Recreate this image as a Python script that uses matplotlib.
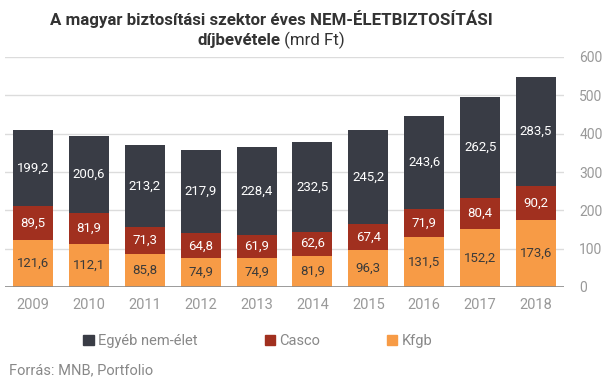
import matplotlib
matplotlib.use("Agg")
import matplotlib.pyplot as plt
from matplotlib.patches import Patch
import numpy as np

plt.rcParams['font.family'] = ['Roboto', 'DejaVu Sans']

years = ['2009', '2010', '2011', '2012', '2013', '2014', '2015', '2016', '2017', '2018']
kfgb = [121.6, 112.1, 85.8, 74.9, 74.9, 81.9, 96.3, 131.5, 152.2, 173.6]
casco = [89.5, 81.9, 71.3, 64.8, 61.9, 62.6, 67.4, 71.9, 80.4, 90.2]
egyeb = [199.2, 200.6, 213.2, 217.9, 228.4, 232.5, 245.2, 243.6, 262.5, 283.5]
yticks = [0, 100, 200, 300, 400, 500, 600]

c_dark = '#393c45'
c_red = '#a1301f'
c_orange = '#f79b46'

W, H = 606, 379
fig = plt.figure(figsize=(W / 100, H / 100), dpi=100)
ax = fig.add_axes([5 / W, 92 / H, 559 / W, 230 / H])

x = np.arange(len(years))
bw = 0.715
kf = np.array(kfgb)
ca = np.array(casco)
eg = np.array(egyeb)
ax.bar(x, kf, bw, color=c_orange, zorder=3)
ax.bar(x, ca, bw, bottom=kf, color=c_red, zorder=3)
ax.bar(x, eg, bw, bottom=kf + ca, color=c_dark, zorder=3)

def fmt(v):
    return f"{v:.1f}".replace('.', ',')

for i in range(len(years)):
    ax.text(x[i], kf[i] / 2, fmt(kf[i]), ha='center', va='center', fontsize=9.5, color='#3a3a3a', zorder=4)
    ax.text(x[i], kf[i] + ca[i] / 2, fmt(ca[i]), ha='center', va='center', fontsize=9.5, color='white', zorder=4)
    ax.text(x[i], kf[i] + ca[i] + eg[i] / 2, fmt(eg[i]), ha='center', va='center', fontsize=9.5, color='white', zorder=4)

ax.set_xlim(-0.5, len(years) - 0.5)
ax.set_ylim(0, 600)
ax.set_yticks(yticks)
ax.yaxis.tick_right()
ax.tick_params(axis='y', length=0, pad=11, labelsize=10, labelcolor='#999999')
ax.set_xticks(x)
ax.set_xticklabels(years)
ax.tick_params(axis='x', length=0, pad=8, labelsize=10.5, labelcolor='#999999')
for t in yticks[1:]:
    ax.axhline(t, color='#dcdcdc', linewidth=1, zorder=1)
ax.axhline(0, color='#8a8a8a', linewidth=1.2, zorder=5)
for s in ax.spines.values():
    s.set_visible(False)

# Title
fig.text(271 / W, 1 - 25 / H, 'A magyar biztosítási szektor éves NEM-ÉLETBIZTOSÍTÁSI',
         ha='center', va='baseline', fontsize=12.2, fontweight='bold', color='#333333')
fig.canvas.draw()
r = fig.canvas.get_renderer()
tb = fig.text(0, 0, 'díjbevétele', fontsize=12.2, fontweight='bold', color='#333333', va='baseline')
tn = fig.text(0, 0, ' (mrd Ft)', fontsize=12.2, color='#333333', va='baseline')
wb = tb.get_window_extent(r).width
wn = tn.get_window_extent(r).width
x0 = 271 - (wb + wn) / 2
tb.set_position((x0 / W, 1 - 45 / H))
tn.set_position(((x0 + wb) / W, 1 - 45 / H))

handles = [Patch(color=c_dark), Patch(color=c_red), Patch(color=c_orange)]
fig.legend(handles, ['Egyéb nem-élet', 'Casco', 'Kfgb'], loc='center',
           bbox_to_anchor=(258 / W, 1 - 341 / H), ncol=3, frameon=False,
           fontsize=10.5, labelcolor='#888888', handlelength=0.7, handleheight=0.7,
           handletextpad=0.3, columnspacing=4.6, borderaxespad=0)

fig.text(9 / W, 1 - 370 / H, 'Forrás: MNB, Portfolio', fontsize=10.5, color='#888888', va='center', ha='left')

fig.savefig('out.png', dpi=100)
